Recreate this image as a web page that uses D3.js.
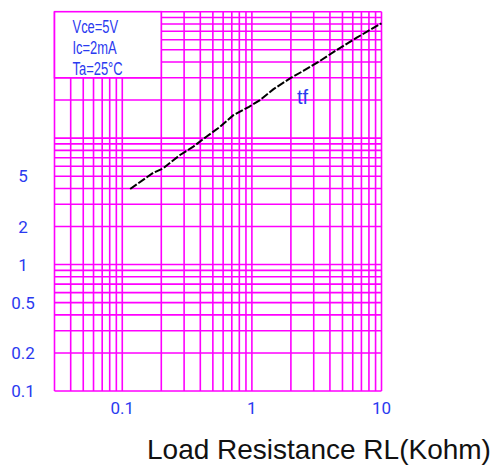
<!DOCTYPE html>
<html>
<head>
<meta charset="utf-8">
<script src="https://cdn.jsdelivr.net/npm/d3@7"></script>
<style>
  html, body { margin: 0; padding: 0; background: #fff; }
  svg { display: block; }
</style>
</head>
<body>
<svg id="chart" width="491" height="466"></svg>
<script>
// ---- data ----
const xGrid = [0.03, 0.04, 0.05, 0.06, 0.07, 0.08, 0.09, 0.1,
               0.2, 0.3, 0.4, 0.5, 0.6, 0.7, 0.8, 0.9, 1,
               2, 3, 4, 5, 6, 7, 8, 9, 10];
const yGrid = [0.1, 0.2, 0.3, 0.4, 0.5, 0.6, 0.7, 0.8, 0.9, 1,
               2, 3, 4, 5, 6, 7, 8, 9, 10,
               20, 30, 40, 50, 60, 70, 80, 90, 100];
const xTickLabels = [0.1, 1, 10];
const yTickLabels = [5, 2, 1, 0.5, 0.2, 0.1];
const tfLoad = [0.115, 0.174, 0.207, 0.279, 0.353, 0.448, 0.568, 0.719, 0.95, 1.155, 1.46, 1.97, 2.49, 3.35, 4.51, 6.44, 10];
const tfTime = [3.96, 5.33, 5.77, 7.36, 8.56, 10.3, 12.3, 15.2, 17.7, 20.0, 24.3, 29.7, 34.0, 40.8, 49.8, 62.3, 81];
const conditions = ["Vce=5V", "Ic=2mA", "Ta=25°C"];
const seriesLabel = "tf";
const seriesLabelAt = [2.23, 18.6];
const boxX = [0.03, 0.2];
const boxY = [30, 100];
const xTitle = "Load Resistance RL(Kohm)";

// ---- layout ----
const plotLeft = 54.5, plotRight = 381.5, plotTop = 11.7, plotBottom = 391;
const gridColor = "#ff00ff";
const blue = "#2a3af0";

const svg = d3.select("#chart");
const x = d3.scaleLog().domain([0.03, 10]).range([plotLeft, plotRight]);
const y = d3.scaleLog().domain([0.1, 100]).range([plotBottom, plotTop]);

const g = svg.append("g");

// grid
g.selectAll("line.v").data(xGrid).join("line")
  .attr("class", "v")
  .attr("x1", d => x(d)).attr("x2", d => x(d))
  .attr("y1", y(0.1)).attr("y2", y(100))
  .attr("stroke", gridColor).attr("stroke-width", 1.6);
g.selectAll("line.h").data(yGrid).join("line")
  .attr("class", "h")
  .attr("y1", d => y(d)).attr("y2", d => y(d))
  .attr("x1", x(0.03)).attr("x2", x(10))
  .attr("stroke", gridColor).attr("stroke-width", 1.6);

// condition box
g.append("rect")
  .attr("x", x(boxX[0])).attr("y", y(boxY[1]))
  .attr("width", x(boxX[1]) - x(boxX[0]))
  .attr("height", y(boxY[0]) - y(boxY[1]))
  .attr("fill", "#fff").attr("stroke", gridColor).attr("stroke-width", 1.6);

const boxLeft = x(boxX[0]), boxTop = y(boxY[1]);
g.selectAll("text.cond").data(conditions).join("text")
  .attr("class", "cond")
  .attr("transform", (d, i) => `translate(${boxLeft + 18},${boxTop + 21 + i * 21}) scale(0.7,1)`)
  .attr("font-family", "Liberation Sans, Arial, sans-serif")
  .attr("font-size", 18.5)
  .attr("fill", blue)
  .text(d => d);

// curve
const pts = tfLoad.map((v, i) => [v, tfTime[i]]);
g.append("path")
  .datum(pts)
  .attr("d", d3.line().x(d => x(d[0])).y(d => y(d[1])))
  .attr("fill", "none")
  .attr("stroke", "#000")
  .attr("stroke-width", 2)
  .attr("stroke-dasharray", "8,2");

g.append("text")
  .attr("x", x(seriesLabelAt[0])).attr("y", y(seriesLabelAt[1]))
  .attr("font-family", "Liberation Sans, Arial, sans-serif")
  .attr("font-size", 20)
  .attr("fill", blue)
  .text(seriesLabel);

// y labels
g.selectAll("text.yl").data(yTickLabels).join("text")
  .attr("class", "yl")
  .attr("x", 23).attr("y", d => y(d))
  .attr("dy", "0.36em")
  .attr("text-anchor", "middle")
  .attr("font-family", "Roboto, Liberation Sans, Arial, sans-serif")
  .attr("font-size", 17)
  .attr("fill", blue)
  .text(d => d);

// x labels
g.selectAll("text.xl").data(xTickLabels).join("text")
  .attr("class", "xl")
  .attr("x", d => x(d)).attr("y", 414)
  .attr("text-anchor", "middle")
  .attr("font-family", "Roboto, Liberation Sans, Arial, sans-serif")
  .attr("font-size", 17)
  .attr("fill", blue)
  .text(d => d);

// x title
svg.append("text")
  .attr("x", 147).attr("y", 459)
  .attr("font-family", "Liberation Sans, Arial, sans-serif")
  .attr("font-size", 28)
  .attr("fill", "#111")
  .text(xTitle);
</script>
</body>
</html>
